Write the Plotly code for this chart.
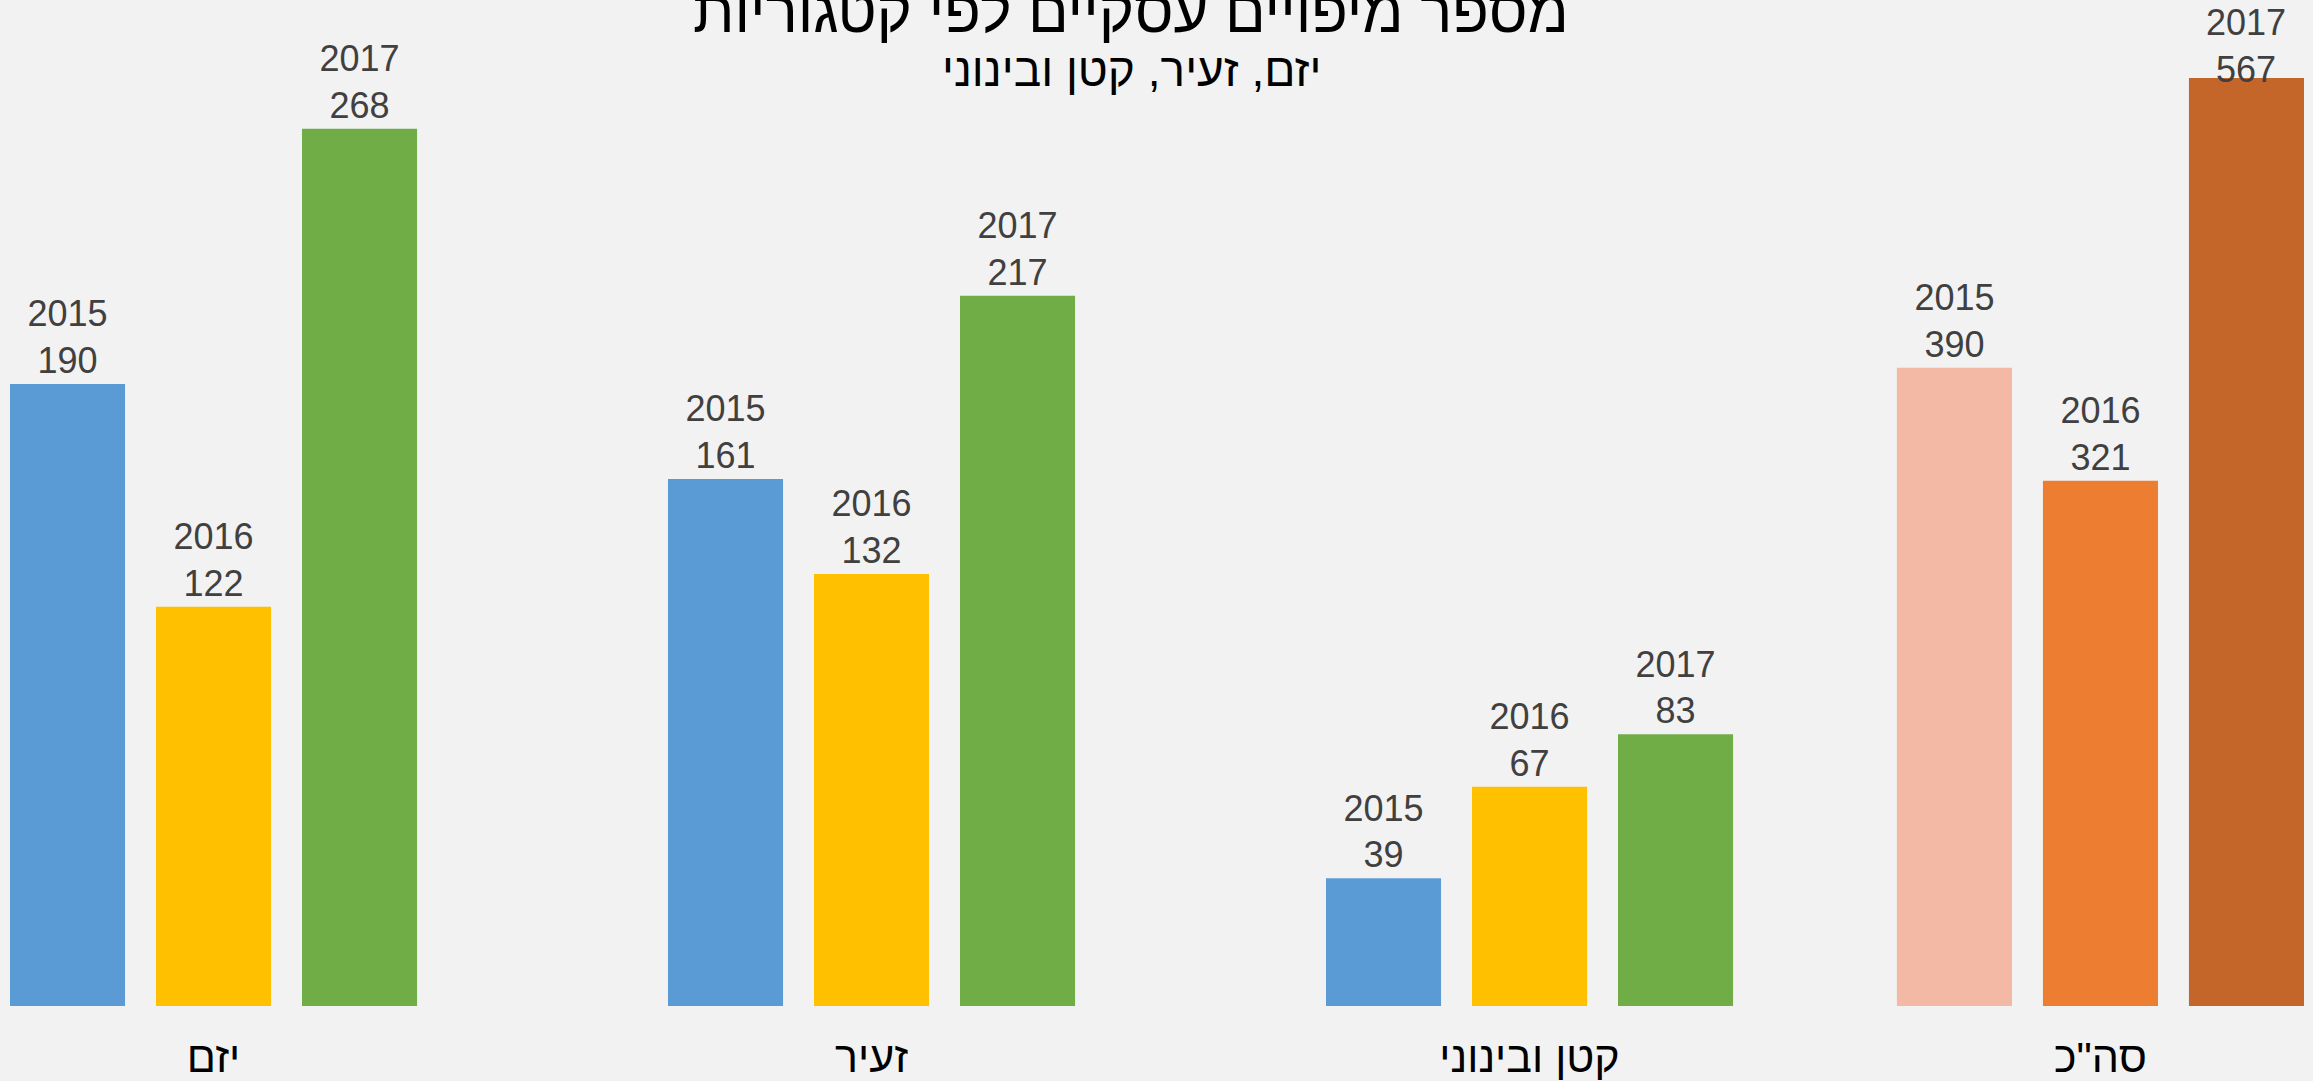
import plotly.graph_objects as go

# ---- data ----
categories = ['יזם', 'זעיר', 'קטן ובינוני']
total_category = ['סה"כ']
years = ['2015', '2016', '2017']
values_2015 = [190, 161, 39]
values_2016 = [122, 132, 67]
values_2017 = [268, 217, 83]
total_values = [390, 321, 567]  # 2015, 2016, 2017

title_text = 'מספר מיפויים עסקיים לפי קטגוריות'
subtitle_text = 'יזם, זעיר, קטן ובינוני'

series_colors = ['#5B9BD5', '#FFC000', '#70AD47']
total_colors = ['#F4B9A5', '#ED7D31', '#C4662A']

FONT = 'Liberation Sans, DejaVu Sans, sans-serif'
BG = '#F2F2F2'
LABEL_FONT = dict(size=36, color='#404040', family=FONT)

BARGAP = 0.3343
BARGROUPGAP = 0.212

fig = go.Figure()
series = [values_2015, values_2016, values_2017]
for year, vals, col in zip(years, series, series_colors):
    fig.add_trace(go.Bar(
        x=categories, y=vals, name=year, meta=year,
        texttemplate='%{meta}<br>%{y}', textposition='outside',
        textfont=LABEL_FONT,
        marker=dict(color=col, line=dict(width=0)),
        cliponaxis=False, xaxis='x', yaxis='y', hoverinfo='skip'))

annotations = []
for i, (year, val, col) in enumerate(zip(years, total_values, total_colors)):
    is_max = val == max(total_values)
    fig.add_trace(go.Bar(
        x=total_category, y=[val], name=year + ' סה"כ', meta=year,
        texttemplate='%{meta}<br>%{y}', textposition='none' if is_max else 'outside',
        textfont=LABEL_FONT,
        marker=dict(color=col, line=dict(width=0)),
        cliponaxis=False, xaxis='x2', yaxis='y2', hoverinfo='skip'))
    if is_max:
        # tallest bar: label pulled down against the top of the bar (as in the source)
        annotations.append(dict(
            text=f'{year}<br>{val}', xref='x2', yref='y2', x=total_category[0], y=val,
            xanchor='center', yanchor='top', showarrow=False,
            xshift=(i - 1) * 658 * (1 - BARGAP) / 3, yshift=78,
            font=LABEL_FONT))

axis_common = dict(type='category', showgrid=False, zeroline=False, showline=False,
                   ticks='', tickfont=dict(size=43, color='#000000', family=FONT),
                   ticklabelstandoff=22, fixedrange=True)

annotations += [
    dict(text=title_text, xref='paper', yref='paper', x=0.489, y=0.9766,
         xanchor='center', yanchor='bottom', showarrow=False,
         font=dict(size=60, color='#000000', family=FONT)),
    dict(text=subtitle_text, xref='paper', yref='paper', x=0.489, y=0.9248,
         xanchor='center', yanchor='bottom', showarrow=False,
         font=dict(size=46, color='#000000', family=FONT)),
]

fig.update_layout(
    width=2313, height=1081,
    margin=dict(l=0, r=0, t=24, b=73),
    paper_bgcolor=BG, plot_bgcolor=BG,
    showlegend=False,
    barmode='group', bargap=BARGAP, bargroupgap=BARGROUPGAP,
    xaxis=dict(range=[-0.3245, 3.1907], **axis_common),
    xaxis2=dict(range=[-3.1922, 0.3230], overlaying='x', anchor='y2', side='bottom', **axis_common),
    yaxis=dict(range=[0, 300], visible=False, fixedrange=True),
    yaxis2=dict(range=[0, 600], visible=False, overlaying='y', side='right', fixedrange=True),
    annotations=annotations,
)

fig.write_html('out.html', config={'displayModeBar': False},
               post_script="document.body.style.margin='0';document.body.style.overflow='hidden';")
